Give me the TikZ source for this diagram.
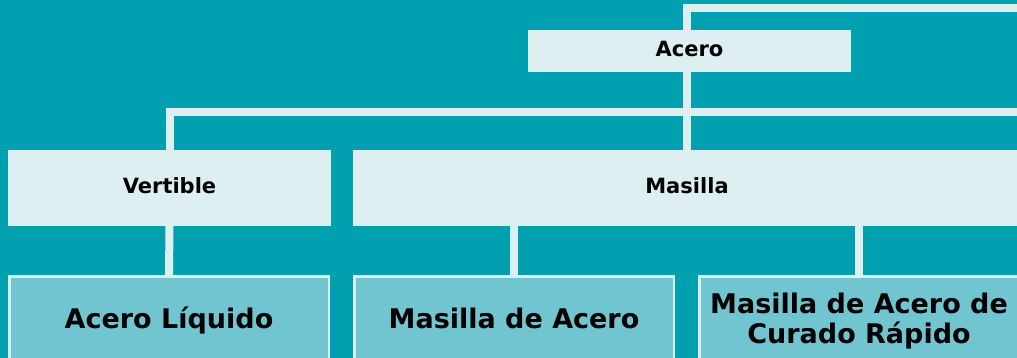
\documentclass[tikz,border=0pt]{standalone}
\usepackage{fontspec}
\setmainfont{DejaVu Sans}
\definecolor{bgteal}{RGB}{0,160,176}
\definecolor{paleblue}{RGB}{221,239,240}
\definecolor{midblue}{RGB}{112,197,208}
\pgfdeclarelayer{bg}
\pgfdeclarelayer{lines}
\pgfsetlayers{bg,lines,main}
\tikzset{
  topbox/.style={fill=paleblue, draw=none, inner sep=0pt, text height=15pt, text depth=4pt,
     font=\bfseries\fontsize{21}{25}\selectfont, text=black},
  leafbox/.style={fill=midblue, draw=paleblue, line width=2.5pt, inner sep=0pt, align=center,
     minimum width=319.5pt, minimum height=89.5pt, font=\bfseries\fontsize{27}{30}\selectfont, text=black},
  oneline/.style={text height=20pt, text depth=6pt},
  conn/.style={draw=paleblue, line width=8pt}
}
\begin{document}
\begin{tikzpicture}[x=1pt,y=-1pt]
\useasboundingbox (0,0) rectangle (1017,358);
\clip (0,0) rectangle (1017,358);
\begin{pgfonlayer}{bg}
\fill[bgteal] (0,0) rectangle (1017,358);
\end{pgfonlayer}
\node[topbox, minimum width=323pt, minimum height=42pt] (acero) at (689.5,51) {Acero};
\node[topbox, minimum width=323pt, minimum height=76pt] (vertible) at (169.5,188) {Vertible};
\node[topbox, minimum width=668pt, minimum height=76pt] (masilla) at (687,188) {Masilla};
\node[leafbox, oneline] (liq) at (169,321) {Acero Líquido};
\node[leafbox, oneline] (mac) at (514,321) {Masilla de Acero};
\node[leafbox] (mrap) at (859,321) {Masilla de Acero de\\Curado Rápido};
\coordinate (topR) at (1040,8.5);
\coordinate (midR) at (1040,112);
\begin{pgfonlayer}{lines}
\draw[conn] (topR) -| (masilla.north);
\draw[conn] (midR) -| (vertible.north);
\draw[conn] (vertible.south) -- (liq.north);
\draw[conn] (mac.north |- masilla.south) -- (mac.north);
\draw[conn] (mrap.north |- masilla.south) -- (mrap.north);
\end{pgfonlayer}
\end{tikzpicture}
\end{document}
